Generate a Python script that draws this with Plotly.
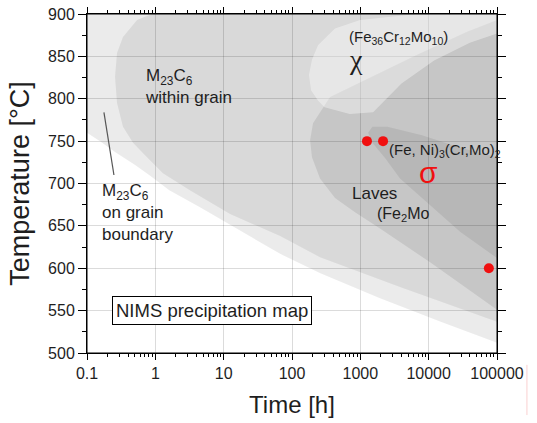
import numpy as np
import plotly.graph_objects as go

# ---- data (time in h, temperature in °C) ----
gb_time = [0.1, 0.155, 0.26, 0.5, 0.84, 1.6, 4.5, 17, 67, 260, 1900, 15000, 100000, 100000, 0.1]
gb_temp = [760, 750, 737, 722, 709, 692, 672, 645, 617, 594, 565, 537, 512, 900, 900]

wg_time = [0.89, 0.54, 0.336, 0.275, 0.257, 0.275, 0.336, 0.471, 0.755, 1.29, 3.2, 12.4, 67, 257, 3800, 100000, 100000, 0.89]
wg_temp = [900, 893, 873, 854, 826, 795, 767, 748, 731, 712, 692, 664, 638, 613, 578, 537, 900, 900]

laves_time = [100000, 36400, 6760, 1250, 360, 203, 184, 196, 257, 426, 836, 1940, 10500, 100000]
laves_temp = [893, 879, 852, 823, 802, 771, 751, 731, 706, 683, 666, 647, 607, 551]

sigma_time = [100000, 30000, 8000, 2500, 1500, 1300, 1500, 2300, 3810, 10500, 28800, 100000]
sigma_temp = [731, 742, 757, 767, 767, 760, 748, 730, 706, 675, 643, 612]

chi_time = [100000, 6760, 990, 426, 240, 196, 177, 190, 240, 300, 700, 1535, 4000, 12000, 40000, 100000]
chi_temp = [900, 900, 893, 883, 863, 846, 828, 810, 798, 790, 782, 784, 818, 845, 866, 877]

pointer_time = [0.177, 0.248]
pointer_temp = [784, 710]

test_time = [1250, 2150, 76000]
test_temp = [750, 750, 600]

x_ticks = [0.1, 1, 10, 100, 1000, 10000, 100000]
x_ticktext = ["0.1", "1", "10", "100", "1000", "10000", "100000"]
y_ticks = [500, 550, 600, 650, 700, 750, 800, 850, 900]

FONT = "Liberation Sans, Arial, Helvetica, sans-serif"
TXT = "#1e1e1e"

fig = go.Figure()

def region(xs, ys, color):
    fig.add_trace(go.Scatter(x=xs, y=ys, fill="toself", fillcolor=color, mode="lines",
                             line=dict(width=0), hoverinfo="skip", showlegend=False))

region(gb_time, gb_temp, "rgba(0,0,0,0.078)")
region(wg_time, wg_temp, "rgba(0,0,0,0.075)")
region(laves_time, laves_temp, "rgba(0,0,0,0.085)")
region(sigma_time, sigma_temp, "rgba(0,0,0,0.075)")
region(chi_time, chi_temp, "rgba(255,255,255,0.38)")

fig.add_trace(go.Scatter(x=pointer_time, y=pointer_temp, mode="lines",
                         line=dict(color="#555555", width=1.2), showlegend=False, hoverinfo="skip"))

fig.add_trace(go.Scatter(x=test_time, y=test_temp, mode="markers",
                         marker=dict(color="#f01010", size=10), showlegend=False))

minor_x = [m * 10.0 ** k for k in range(-1, 5) for m in range(2, 10)]

fig.update_xaxes(type="log", range=[-1, 5], tickmode="array", tickvals=x_ticks, ticktext=x_ticktext,
                 showgrid=True, gridcolor="rgba(0,0,0,0.14)", gridwidth=1,
                 showline=True, linecolor="black", linewidth=1, mirror="allticks",
                 ticks="outside", ticklen=6, tickcolor="black",
                 minor=dict(tickmode="array", tickvals=minor_x, ticks="outside", ticklen=3,
                            tickcolor="black", showgrid=False),
                 tickfont=dict(family=FONT, size=16, color=TXT), automargin=False,
                 ticklabeloverflow="allow",
                 title=dict(text="Time [h]", font=dict(family=FONT, size=24, color=TXT), standoff=14),
                 zeroline=False)
fig.update_yaxes(range=[500, 900], tickmode="array", tickvals=y_ticks,
                 showgrid=True, gridcolor="rgba(0,0,0,0.14)", gridwidth=1,
                 showline=True, linecolor="black", linewidth=1, mirror="ticks",
                 ticks="outside", ticklen=8, tickcolor="black",
                 minor=dict(dtick=25, ticks="outside", ticklen=4, tickcolor="black", showgrid=False),
                 tickfont=dict(family=FONT, size=16, color=TXT), automargin=False,
                 ticklabeloverflow="allow",
                 title=dict(text="Temperature [°C]", font=dict(family=FONT, size=27, color=TXT), standoff=10),
                 zeroline=False)

L = np.log10
ann = [
    dict(x=L(0.66), y=815, text="M<sub>23</sub>C<sub>6</sub><br>within grain", size=17, font=FONT),
    dict(x=L(0.155), y=666, text="M<sub>23</sub>C<sub>6</sub><br>on grain<br>boundary", size=17, font=FONT),
    dict(x=L(638), y=872, text="(Fe<sub>36</sub>Cr<sub>12</sub>Mo<sub>10</sub>)", size=15, font=FONT),
    dict(x=L(640), y=846, text="χ", size=28, font="Liberation Serif, DejaVu Serif, serif"),
    dict(x=L(2460), y=739, text="(Fe, Ni)<sub>3</sub>(Cr,Mo)<sub>2</sub>", size=15, font=FONT),
    dict(x=L(706), y=688, text="Laves", size=17, font=FONT),
    dict(x=L(1640), y=663, text="(Fe<sub>2</sub>Mo", size=16, font=FONT),
]
for a in ann:
    fig.add_annotation(x=a["x"], y=a["y"], xref="x", yref="y", text=a["text"], showarrow=False,
                       xanchor="left", yanchor="middle", align="left",
                       font=dict(family=a["font"], size=a["size"], color=TXT))

fig.add_annotation(x=L(10100), y=713, xref="x", yref="y", text="σ", showarrow=False,
                   font=dict(family=FONT, size=30, color="#f01010"))

fig.add_annotation(x=L(6.75), y=549.6, xref="x", yref="y", text="NIMS precipitation map", showarrow=False,
                   font=dict(family=FONT, size=18.5, color=TXT), bgcolor="white",
                   bordercolor="black", borderwidth=1, borderpad=3)

# plot frame (guarantees the top edge line)
fig.add_shape(type="rect", xref="paper", yref="paper", x0=0, x1=1, y0=0, y1=1,
              line=dict(color="black", width=1), fillcolor="rgba(0,0,0,0)", layer="above")

fig.add_shape(type="line", xref="paper", yref="paper", x0=1.073, x1=1.073, y0=-0.035, y1=-0.183,
              line=dict(color="rgba(240,120,120,0.35)", width=1))

fig.update_layout(width=537, height=423, margin=dict(l=87, r=40, t=14, b=70),
                  paper_bgcolor="white", plot_bgcolor="white", showlegend=False,
                  font=dict(family=FONT))

fig.write_html("out.html", config={"displayModeBar": False},
               post_script="document.body.style.margin='0';")
